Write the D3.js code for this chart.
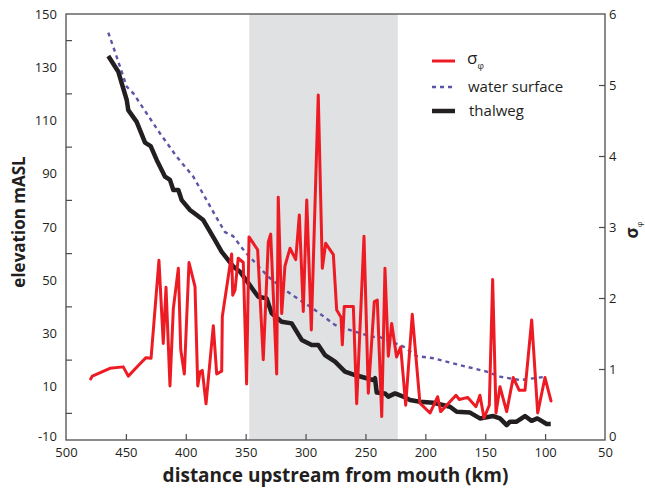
<!DOCTYPE html>
<html>
<head>
<meta charset="utf-8">
<script src="https://cdn.jsdelivr.net/npm/d3@7"></script>
<style>
  body { margin: 0; background: #fff; }
  svg text { font-family: "Open Sans", "Noto Sans", sans-serif; fill: #231f20; }
</style>
</head>
<body>
<div id="chart"></div>
<script>
// thalweg (elevation, m ASL)
const thalwegKm = [464.7, 456.3, 449.3, 448.0, 441.0, 434.0, 429.3, 424.3, 417.3, 413.2, 410.4, 406.2, 403.4, 396.5, 390.9, 385.4, 375.6, 370.0, 360.3, 354.7, 347.8, 339.5, 332.5, 328.3, 320.0, 311.6, 303.2, 294.9, 289.4, 283.8, 275.4, 267.1, 258.7, 249.0, 243.4, 242.0, 240.6, 233.7, 230.9, 225.3, 218.4, 212.8, 204.5, 193.3, 179.4, 173.8, 162.7, 154.4, 143.3, 137.7, 132.1, 129.3, 123.8, 116.8, 111.3, 106.5, 98.7, 95.3]
const thalwegElev = [134.2, 128.3, 117.7, 113.9, 109.5, 101.7, 100.4, 95.2, 88.9, 87.7, 83.9, 83.9, 80.1, 76.4, 74.5, 72.6, 65.1, 60.7, 55.1, 53.2, 48.9, 43.8, 43.2, 37.6, 34.4, 33.8, 27.6, 25.7, 25.7, 21.9, 19.4, 15.7, 14.4, 13.2, 12.5, 13.2, 7.8, 7.5, 6.3, 7.5, 6.3, 5.0, 4.4, 4.0, 2.5, 0.6, 0.3, -1.9, -1.0, -1.9, -4.4, -3.1, -3.1, -1.0, -2.8, -1.9, -4.0, -4.0]

// water surface (elevation, m ASL)
const surfaceKm = [464.7, 459.1, 449.3, 443.8, 421.6, 407.6, 393.7, 375.6, 367.3, 360.6, 350.6, 331.1, 317.2, 292.1, 275.4, 258.7, 244.8, 237.8, 218.4, 207.2, 193.3, 165.5, 148.8, 137.7, 121.0, 98.7]
const surfaceElev = [143.0, 135.8, 122.7, 120.2, 105.2, 96.4, 88.9, 74.5, 68.1, 66.6, 60.7, 51.3, 46.3, 38.8, 33.2, 30.7, 28.8, 28.6, 25.1, 21.5, 20.7, 17.5, 15.7, 13.8, 12.5, 13.8]

// sigma phi (right axis)
const sigmaKm = [479.4, 478.0, 463.3, 452.2, 448.0, 439.6, 433.2, 429.0, 422.4, 418.8, 416.5, 413.2, 410.4, 406.2, 404.2, 401.2, 397.3, 392.3, 390.0, 388.1, 386.2, 383.1, 377.0, 374.2, 370.0, 369.5, 361.7, 360.8, 358.9, 356.2, 352.0, 349.2, 347.2, 340.0, 335.3, 331.1, 329.1, 324.1, 322.8, 319.9, 317.2, 313.0, 308.2, 305.2, 301.9, 299.0, 295.2, 289.4, 286.0, 283.2, 276.8, 274.0, 270.4, 269.3, 267.7, 260.1, 257.3, 251.2, 247.6, 242.6, 240.1, 236.4, 233.7, 230.9, 228.1, 224.0, 220.6, 216.4, 210.9, 204.5, 196.1, 189.7, 187.2, 174.4, 171.6, 164.6, 157.7, 154.4, 151.0, 146.6, 143.8, 141.0, 137.7, 132.1, 126.6, 121.6, 116.8, 111.2, 106.2, 100.1, 95.1]
const sigmaVal = [0.86, 0.90, 1.01, 1.03, 0.90, 1.05, 1.16, 1.15, 2.53, 1.36, 2.15, 0.76, 1.85, 2.42, 1.27, 0.93, 2.50, 2.16, 0.76, 0.96, 0.98, 0.51, 1.61, 0.93, 0.97, 1.74, 2.62, 2.04, 2.11, 2.56, 2.50, 0.79, 2.86, 2.68, 1.13, 2.79, 2.90, 0.93, 3.42, 1.78, 2.45, 2.70, 2.54, 3.17, 1.81, 3.38, 1.55, 4.86, 2.42, 2.77, 2.61, 1.83, 1.73, 1.34, 1.88, 1.88, 0.51, 2.87, 0.66, 1.95, 1.97, 0.33, 2.42, 1.18, 1.64, 1.17, 1.31, 0.49, 1.77, 0.52, 0.38, 0.61, 0.40, 0.63, 0.57, 0.60, 0.47, 0.63, 0.31, 0.49, 2.26, 0.38, 0.75, 0.40, 0.88, 0.70, 0.70, 1.69, 0.38, 0.88, 0.55]

const bandKm = [347, 223]
const xTickLabels = [500, 450, 400, 350, 300, 250, 200, 150, 100, 50]
const yTickLabels = [150, 130, 110, 90, 70, 50, 30, 10, -10]
const yTickMarks = [140, 120, 100, 80, 60, 40, 20, 0]
const y2TickLabels = [0, 1, 2, 3, 4, 5, 6]

let width = 645
let height = 489
let margin = {top: 14, right: 40, bottom: 49, left: 66}

let svg = d3.select('#chart').append('svg')
  .attr('width', width)
  .attr('height', height)

let x = d3.scaleLinear().domain([500, 50]).range([margin.left, width - margin.right])
let y = d3.scaleLinear().domain([-10, 150]).range([height - margin.bottom, margin.top])
let y2 = d3.scaleLinear().domain([0, 6]).range([height - margin.bottom, margin.top])

// shaded reach
svg.append('rect')
  .attr('x', x(bandKm[0]))
  .attr('y', margin.top)
  .attr('width', x(bandKm[1]) - x(bandKm[0]))
  .attr('height', y(-10) - y(150))
  .attr('fill', '#e0e1e3')

// frame
svg.append('rect')
  .attr('x', margin.left).attr('y', margin.top)
  .attr('width', x(50) - x(500)).attr('height', y(-10) - y(150))
  .attr('fill', 'none').attr('stroke', '#4d4d4f').attr('stroke-width', 1.3)

// x axis
let xAxis = d3.axisBottom(x).tickValues(xTickLabels).tickSizeInner(-6).tickSizeOuter(0).tickPadding(8)
let gx = svg.append('g').attr('transform', `translate(0,${y(-10)})`).call(xAxis)
gx.select('.domain').remove()
gx.selectAll('.tick line').attr('stroke', '#4d4d4f').attr('stroke-width', 1.2)
  .filter(d => d == 500 || d == 50).remove()
gx.selectAll('.tick text').attr('font-size', 13).attr('font-family', '"Open Sans", sans-serif').attr('fill', '#231f20')

// left axis: marks between labels
svg.append('g').selectAll('line')
  .data(yTickMarks).enter().append('line')
  .attr('x1', margin.left).attr('x2', margin.left + 6)
  .attr('y1', d => y(d)).attr('y2', d => y(d))
  .attr('stroke', '#4d4d4f').attr('stroke-width', 1.2)

svg.append('g').selectAll('text')
  .data(yTickLabels).enter().append('text')
  .attr('x', margin.left - 9)
  .attr('y', d => y(d))
  .attr('dy', d => d == -10 ? '0.1em' : '0.35em')
  .attr('text-anchor', 'end')
  .attr('font-size', 13)
  .text(d => d)

// right axis
let y2Axis = d3.axisRight(y2).tickValues(y2TickLabels).tickFormat(d3.format('d'))
  .tickSizeInner(-6).tickSizeOuter(0).tickPadding(10)
let gy2 = svg.append('g').attr('transform', `translate(${x(50)},0)`).call(y2Axis)
gy2.select('.domain').remove()
gy2.selectAll('.tick line').attr('stroke', '#4d4d4f').attr('stroke-width', 1.2)
  .filter(d => d == 0 || d == 6).remove()
gy2.selectAll('.tick text').attr('font-size', 13).attr('font-family', '"Open Sans", sans-serif').attr('fill', '#231f20')
  .attr('x', 4)
  .attr('dy', d => d == 0 ? '0.05em' : '0.32em')

// lines
let surfaceLine = d3.line().x((d, i) => x(surfaceKm[i])).y(d => y(d))
let thalwegLine = d3.line().x((d, i) => x(thalwegKm[i])).y(d => y(d))
let sigmaLine = d3.line().x((d, i) => x(sigmaKm[i])).y(d => y2(d))

svg.append('path').datum(surfaceElev)
  .attr('d', surfaceLine)
  .attr('fill', 'none').attr('stroke', '#5b55a5').attr('stroke-width', 2.4)
  .attr('stroke-dasharray', '4,4')

svg.append('path').datum(thalwegElev)
  .attr('d', thalwegLine)
  .attr('fill', 'none').attr('stroke', '#231f20').attr('stroke-width', 4.5)
  .attr('stroke-linejoin', 'round')

svg.append('path').datum(sigmaVal)
  .attr('d', sigmaLine)
  .attr('fill', 'none').attr('stroke', '#ed1c24').attr('stroke-width', 3)
  .attr('stroke-linejoin', 'round').attr('stroke-linecap', 'round')

// legend
let legend = svg.append('g')
legend.append('line').attr('x1', 432).attr('x2', 455).attr('y1', 61).attr('y2', 61)
  .attr('stroke', '#ed1c24').attr('stroke-width', 3)
legend.append('line').attr('x1', 432).attr('x2', 455).attr('y1', 87).attr('y2', 87)
  .attr('stroke', '#5b55a5').attr('stroke-width', 2.4).attr('stroke-dasharray', '4,4')
legend.append('line').attr('x1', 432).attr('x2', 455).attr('y1', 111).attr('y2', 111)
  .attr('stroke', '#231f20').attr('stroke-width', 4.5)

let sig = legend.append('text').attr('x', 467).attr('y', 64).attr('font-size', 17)
sig.append('tspan').text('σ')
sig.append('tspan').attr('font-size', 9).attr('dy', 5).text('φ')
legend.append('text').attr('x', 468).attr('y', 92).attr('font-size', 15).text('water surface')
legend.append('text').attr('x', 469).attr('y', 116).attr('font-size', 15).text('thalweg')

// axis titles
svg.append('text')
  .attr('x', (x(500) + x(50)) / 2)
  .attr('y', 482)
  .attr('text-anchor', 'middle')
  .attr('font-size', 19)
  .attr('font-weight', 'bold')
  .text('distance upstream from mouth (km)')

svg.append('text')
  .attr('transform', 'translate(25,222) rotate(-90)')
  .attr('text-anchor', 'middle')
  .attr('font-size', 17)
  .attr('font-weight', 'bold')
  .text('elevation mASL')

let s2 = svg.append('text')
  .attr('transform', 'translate(638,230) rotate(-90)')
  .attr('text-anchor', 'middle')
  .attr('font-size', 17)
  .attr('font-weight', 'bold')
s2.append('tspan').text('σ')
s2.append('tspan').attr('font-size', 8).attr('font-weight', 'normal').attr('dy', 4).text('φ')
</script>
</body>
</html>
